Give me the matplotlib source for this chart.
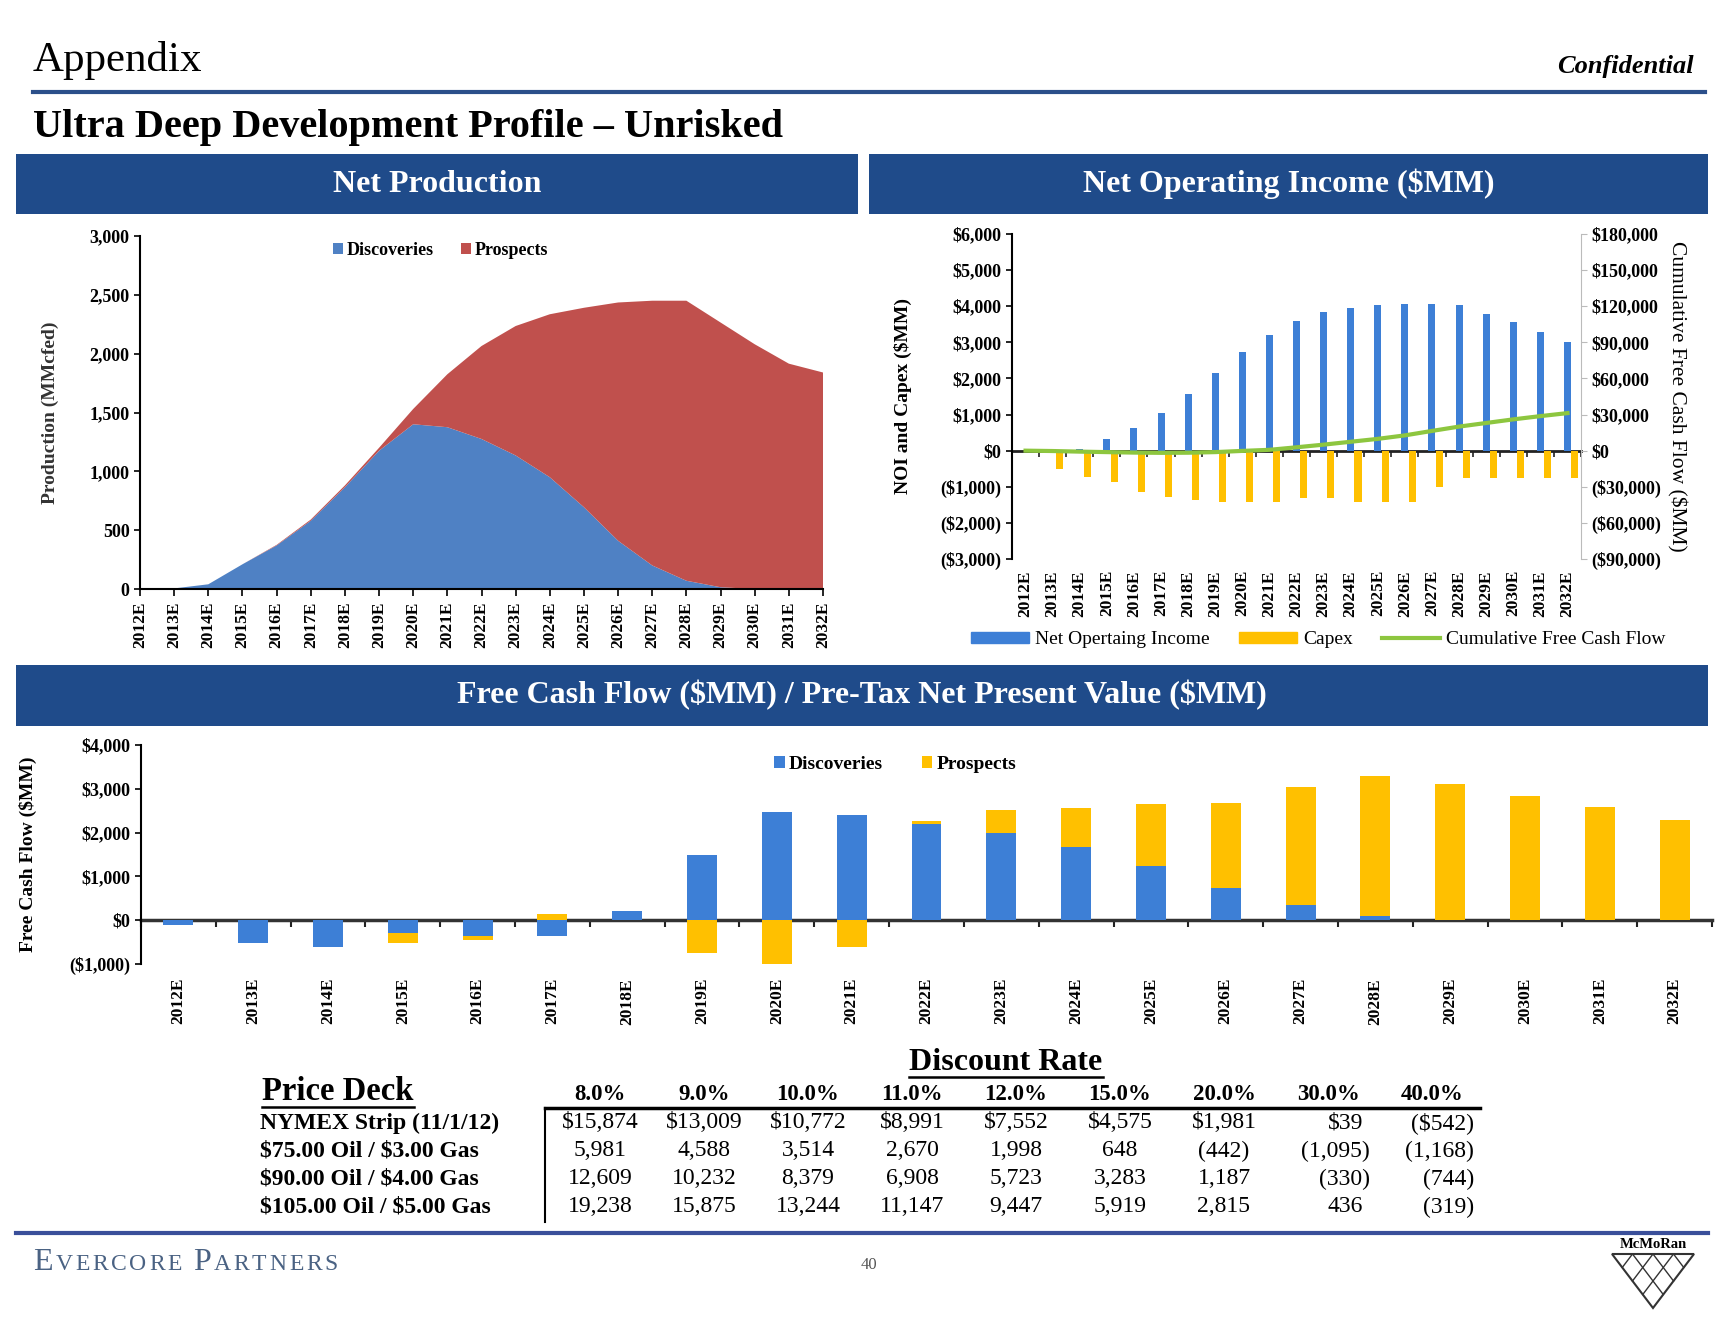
import numpy as np
import matplotlib.pyplot as plt
from matplotlib.patches import Rectangle, Patch, Polygon
from matplotlib.lines import Line2D
from matplotlib.offsetbox import TextArea, HPacker, AnnotationBbox

plt.rcParams['font.family'] = ['Liberation Serif', 'DejaVu Serif']
plt.rcParams['font.weight'] = 'bold'
plt.rcParams['axes.labelweight'] = 'bold'
plt.rcParams['text.parse_math'] = False

# ---- data ----
years = ['2012E', '2013E', '2014E', '2015E', '2016E', '2017E', '2018E', '2019E', '2020E', '2021E', '2022E',
         '2023E', '2024E', '2025E', '2026E', '2027E', '2028E', '2029E', '2030E', '2031E', '2032E']

# net production (MMcfed)
prod_disc = [0, 5, 40, 210, 370, 580, 865, 1175, 1400, 1375, 1275, 1135, 950, 695, 410, 200, 70, 15, 0, 0, 0]
prod_prosp = [0, 0, 0, 0, 5, 10, 15, 25, 130, 450, 790, 1100, 1385, 1695, 2025, 2250, 2380, 2250, 2080, 1915, 1840]

# net operating income / capex ($MM), cumulative free cash flow ($MM)
noi = [0, 0, 50, 330, 630, 1050, 1580, 2140, 2730, 3190, 3580, 3840, 3950, 4020, 4050, 4050, 4020, 3790, 3560, 3280, 3020]
capex = [-20, -510, -725, -855, -1135, -1285, -1380, -1420, -1420, -1420, -1300, -1320, -1420, -1420, -1420,
         -1020, -770, -745, -770, -745, -770]
cum_fcf = [0, -300, -800, -1200, -1600, -1800, -1700, -1200, -200, 700, 2800, 5000, 7400, 9800, 12700,
           16400, 20000, 23000, 26000, 28700, 31200]

# free cash flow ($MM)
fcf_disc = [-100, -510, -620, -300, -355, -355, 200, 1485, 2470, 2410, 2200, 1990, 1675, 1235, 730, 350, 100, 0, 0, 0, 0]
fcf_prosp = [0, 0, 0, -210, -100, 140, 0, -760, -1040, -620, 70, 530, 885, 1415, 1945, 2680, 3200, 3105, 2825, 2575, 2295]

# pre-tax NPV table
rates = ['8.0%', '9.0%', '10.0%', '11.0%', '12.0%', '15.0%', '20.0%', '30.0%', '40.0%']
deck_labels = ['NYMEX Strip (11/1/12)', '$75.00 Oil / $3.00 Gas', '$90.00 Oil / $4.00 Gas', '$105.00 Oil / $5.00 Gas']
npv_nymex = [15874, 13009, 10772, 8991, 7552, 4575, 1981, 39, -542]
npv_75 = [5981, 4588, 3514, 2670, 1998, 648, -442, -1095, -1168]
npv_90 = [12609, 10232, 8379, 6908, 5723, 3283, 1187, -330, -744]
npv_105 = [19238, 15875, 13244, 11147, 9447, 5919, 2815, 436, -319]

# ---- colours ----
BANNER = '#1f4b8a'
AREA_BLUE = '#4f81c4'
AREA_RED = '#c0504d'
BAR_BLUE = '#3d7fd6'
YELLOW = '#ffc000'
GREEN = '#8dc63f'

W, H = 1725, 1320
fig = plt.figure(figsize=(W / 100, H / 100), dpi=100)


def fx(px):
    return px / W


def fy(py):
    return 1 - py / H


def rect_ax(l, t, r, b):
    return fig.add_axes([fx(l), fy(b), (r - l) / W, (b - t) / H])


def money(v):
    s = f"${abs(v):,.0f}"
    return f"({s})" if v < 0 else s


def plain(v):
    s = f"{abs(v):,.0f}"
    return f"({s})" if v < 0 else s


def bold_ticks(ax):
    for lbl in ax.get_xticklabels() + ax.get_yticklabels():
        lbl.set_fontweight('bold')


# ---- header ----
fig.text(fx(33), fy(60), 'Appendix', fontsize=31, fontweight='normal', va='center', ha='left')
fig.text(fx(1694), fy(66), 'Confidential', fontsize=19, fontstyle='italic', va='center', ha='right')
fig.add_artist(Line2D([fx(33), fx(1705)], [fy(92), fy(92)], transform=fig.transFigure, color='#2b4f8a', lw=3))
fig.text(fx(33), fy(127), 'Ultra Deep Development Profile \u2013 Unrisked', fontsize=29, va='center', ha='left')

banners = [(16, 154, 858, 214, 'Net Production'),
           (869, 154, 1708, 214, 'Net Operating Income ($MM)'),
           (16, 665, 1708, 726, 'Free Cash Flow ($MM) / Pre-Tax Net Present Value ($MM)')]
for l, t, r, b, label in banners:
    fig.add_artist(Rectangle((fx(l), fy(b)), (r - l) / W, (b - t) / H, transform=fig.transFigure,
                             facecolor=BANNER, edgecolor='none'))
    fig.text(fx((l + r) / 2), fy((t + b) / 2), label, color='white', fontsize=23, ha='center', va='center')

x = np.arange(len(years))

# ---- net production ----
ax1 = rect_ax(140, 236, 823, 589)
ax1.stackplot(x, prod_disc, prod_prosp, colors=[AREA_BLUE, AREA_RED], labels=['Discoveries', 'Prospects'], lw=0)
ax1.set_xlim(0, len(years) - 1)
ax1.set_ylim(0, 3000)
yt1 = np.arange(0, 3001, 500)
ax1.set_yticks(yt1)
ax1.set_yticklabels([f'{v:,}' for v in yt1])
ax1.set_xticks(x)
ax1.set_xticklabels(years, rotation=90)
ax1.spines[['top', 'right']].set_visible(False)
ax1.spines[['left', 'bottom']].set_linewidth(1.5)
ax1.tick_params(axis='y', labelsize=13, length=4, width=1.2)
ax1.tick_params(axis='x', labelsize=12.5, length=5, width=1.2, pad=4)
bold_ticks(ax1)
ax1.set_ylabel('Production (MMcfed)', fontsize=14, color='#333333')
ax1.yaxis.set_label_coords(-0.118, 0.5)
ax1.legend(loc='upper center', bbox_to_anchor=(0.44, 1.03), ncol=2, frameon=False, handlelength=0.55,
           handleheight=0.55, handletextpad=0.2, columnspacing=1.5, prop={'size': 13, 'weight': 'bold'})

# ---- net operating income ----
ax2 = rect_ax(1012, 234, 1581, 559)
ax2.bar(x, noi, width=0.26, color=BAR_BLUE)
ax2.bar(x + 0.27, capex, width=0.26, color=YELLOW)
ax2.set_xlim(-0.5, len(years) - 0.5)
ax2.set_ylim(-3000, 6000)
yt2 = np.arange(-3000, 6001, 1000)
ax2.set_yticks(yt2)
ax2.set_yticklabels([money(v) for v in yt2])
ax2.set_xticks(x)
ax2.set_xticklabels(years, rotation=90)
ax2.spines[['top', 'right', 'bottom']].set_visible(False)
ax2.spines['left'].set_linewidth(1.5)
ax2.tick_params(axis='y', labelsize=13, length=4, width=1.2)
ax2.tick_params(axis='x', labelsize=12.5, length=0, pad=8)
bold_ticks(ax2)
ax2.set_ylabel('NOI and Capex ($MM)', fontsize=14)
ax2.yaxis.set_label_coords(-0.175, 0.5)
zero2 = ax2.secondary_xaxis(1 / 3)
zero2.set_xticks(np.arange(-0.5, len(years), 1.0))
zero2.tick_params(length=4, width=1.2, labelbottom=False, color='#222222')
zero2.spines['bottom'].set_linewidth(2)
zero2.spines['bottom'].set_color('#222222')

ax2r = ax2.twinx()
ax2r.plot(x, cum_fcf, color=GREEN, lw=3)
ax2r.set_ylim(-90000, 180000)
yt2r = np.arange(-90000, 180001, 30000)
ax2r.set_yticks(yt2r)
ax2r.set_yticklabels([money(v) for v in yt2r])
ax2r.spines[['top', 'left', 'bottom']].set_visible(False)
ax2r.spines['right'].set_color('#bbbbbb')
ax2r.tick_params(axis='y', labelsize=13, length=4, color='#bbbbbb')
bold_ticks(ax2r)
ax2r.set_ylabel('Cumulative Free Cash Flow ($MM)', fontsize=15.5, fontweight='normal', rotation=270)
ax2r.yaxis.set_label_coords(1.185, 0.5)

fig.legend(handles=[Patch(color=BAR_BLUE), Patch(color=YELLOW), Line2D([], [], color=GREEN, lw=3)],
           labels=['Net Opertaing Income', 'Capex', 'Cumulative Free Cash Flow'],
           loc='center', bbox_to_anchor=(fx(1318), fy(640)), ncol=3, frameon=False,
           handlelength=3.0, handleheight=0.55, handletextpad=0.3, columnspacing=1.5,
           prop={'size': 14, 'weight': 'normal'})

# ---- free cash flow ----
ax3 = rect_ax(141, 745, 1712, 964)
fd = np.array(fcf_disc)
fp = np.array(fcf_prosp)
fp_bottom = np.where(fp >= 0, np.maximum(fd, 0), np.minimum(fd, 0))
ax3.bar(x, fd, width=0.4, color=BAR_BLUE, label='Discoveries')
ax3.bar(x, fp, bottom=fp_bottom, width=0.4, color=YELLOW, label='Prospects')
ax3.set_xlim(-0.5, len(years) - 0.5)
ax3.set_ylim(-1000, 4000)
yt3 = np.arange(-1000, 4001, 1000)
ax3.set_yticks(yt3)
ax3.set_yticklabels([money(v) for v in yt3])
ax3.set_xticks(x)
ax3.set_xticklabels(years, rotation=90)
ax3.spines[['top', 'right', 'bottom']].set_visible(False)
ax3.spines['left'].set_linewidth(1.5)
ax3.tick_params(axis='y', labelsize=13, length=4, width=1.2)
ax3.tick_params(axis='x', labelsize=12.5, length=0, pad=10)
bold_ticks(ax3)
ax3.set_ylabel('Free Cash Flow ($MM)', fontsize=14)
ax3.yaxis.set_label_coords(-0.066, 0.5)
zero3 = ax3.secondary_xaxis(0.2)
zero3.set_xticks(np.arange(-0.5, len(years), 1.0))
zero3.tick_params(length=5, width=1.5, labelbottom=False, color='#222222')
zero3.spines['bottom'].set_linewidth(2.5)
zero3.spines['bottom'].set_color('#333333')
ax3.legend(loc='center', bbox_to_anchor=(0.48, 0.91), ncol=2, frameon=False, handlelength=0.55,
           handleheight=0.55, handletextpad=0.2, columnspacing=2.0, prop={'size': 14, 'weight': 'bold'})

# ---- price deck table ----
t_disc = fig.text(fx(1006), fy(1063), 'Discount Rate', fontsize=23, ha='center', va='center')
t_deck = fig.text(fx(262), fy(1092), 'Price Deck', fontsize=23.5, ha='left', va='center')
for i, r in enumerate(rates):
    fig.text(fx(600 + 104 * i), fy(1094), r, fontsize=16.5, ha='center', va='center')
fig.add_artist(Line2D([fx(545), fx(1480)], [fy(1108), fy(1108)], transform=fig.transFigure, color='black', lw=2.5))
fig.add_artist(Line2D([fx(545), fx(545)], [fy(1108), fy(1222)], transform=fig.transFigure, color='black', lw=1.5))
for j, (lab, row) in enumerate(zip(deck_labels, [npv_nymex, npv_75, npv_90, npv_105])):
    yy = fy(1123 + 28 * j)
    fig.text(fx(260), yy, lab, fontsize=17, ha='left', va='center')
    for i, v in enumerate(row):
        s = money(v) if j == 0 else plain(v)
        if i < 7:
            fig.text(fx(600 + 104 * i), yy, s, fontsize=17, fontweight='normal', ha='center', va='center')
        else:
            right = 1370 + 104 * (i - 7) - (0 if v < 0 else 7)
            fig.text(fx(right), yy, s, fontsize=17, fontweight='normal', ha='right', va='center')

fig.canvas.draw()
for t in (t_disc, t_deck):
    bb = t.get_window_extent()
    yl = (bb.y0 + 1) / fig.bbox.height
    fig.add_artist(Line2D([bb.x0 / fig.bbox.width, bb.x1 / fig.bbox.width], [yl, yl],
                          transform=fig.transFigure, color='black', lw=1.8))

# ---- footer ----
fig.add_artist(Line2D([fx(16), fx(1708)], [fy(1233), fy(1233)], transform=fig.transFigure, color='#3a4f9a', lw=3))
chars = []
for word in ['EVERCORE', 'PARTNERS']:
    for k, ch in enumerate(word):
        chars.append(TextArea(ch, textprops=dict(size=23 if k == 0 else 17, color='#4a6283', weight='normal')))
    chars.append(TextArea(' ', textprops=dict(size=15)))
pack = HPacker(children=chars[:-1], align='baseline', pad=0, sep=2)
fig.add_artist(AnnotationBbox(pack, (fx(33), fy(1262)), xycoords='figure fraction', box_alignment=(0, 0.5),
                              frameon=False))
fig.text(fx(869), fy(1265), '40', fontsize=12, fontweight='normal', color='#555555', ha='center', va='center')

# small logo
fig.text(fx(1653), fy(1245), 'McMoRan', fontsize=10.5, ha='center', va='center')
fig.add_artist(Polygon([[fx(1612), fy(1254)], [fx(1694), fy(1254)], [fx(1653), fy(1308)]], closed=True,
                       transform=fig.transFigure, fill=False, edgecolor='#333333', lw=1.5))
for k in range(1, 4):
    a = 1612 + k * 20.5
    fig.add_artist(Line2D([fx(a), fx(1612 + 41 * k / 4)], [fy(1254), fy(1254 + 54 * k / 4)],
                          transform=fig.transFigure, color='#333333', lw=1))
    fig.add_artist(Line2D([fx(a), fx(1694 - 41 * (4 - k) / 4)], [fy(1254), fy(1254 + 54 * (4 - k) / 4)],
                          transform=fig.transFigure, color='#333333', lw=1))

fig.savefig('out.png', dpi=100)
